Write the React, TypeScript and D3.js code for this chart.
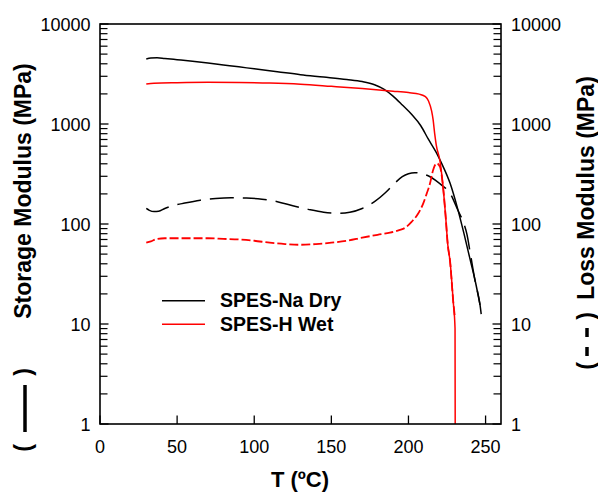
import React from "react";
import * as d3 from "d3";

// SPES-Na Dry, storage modulus (solid black)
const naStorageT = [30, 33, 37, 42, 50, 60, 70, 80, 90, 100, 115, 130, 145, 160, 170, 178, 184, 190, 196, 202, 208, 213, 218, 221.5, 227, 232, 236, 240, 243.5, 246.4];
const naStorageV = [4467, 4570, 4600, 4520, 4400, 4250, 4080, 3900, 3730, 3560, 3330, 3110, 2950, 2790, 2660, 2470, 2230, 1900, 1550, 1250, 960, 700, 520, 404, 255, 140, 80, 44, 26, 15.5];

// SPES-Na Dry, loss modulus (dashed black)
const naLossT = [30, 32, 35, 38, 42, 47, 55, 65, 75, 85, 95, 105, 115, 125, 135, 145, 155, 162, 170, 178, 185, 191, 196, 200, 204, 209, 214, 218, 221.5, 227, 232, 236, 238, 240, 243, 246.4, 247.5];
const naLossV = [143, 137, 133, 134, 143, 152, 162, 173, 180, 183, 182, 177, 167, 152, 140, 131, 128, 131, 143, 167, 205, 255, 297, 318, 326, 318, 297, 270, 245, 203, 138, 100, 78, 52, 28, 15.5, 11.4];

// SPES-H Wet, storage modulus (solid red)
const hStorageT = [30, 35, 50, 70, 90, 110, 130, 150, 170, 190, 200, 207, 211, 213, 215, 216, 217, 218, 220.5, 224, 225.5, 227, 229, 230.2, 230.3];
const hStorageV = [2512, 2560, 2590, 2610, 2600, 2570, 2500, 2380, 2260, 2130, 2060, 1990, 1880, 1700, 1350, 1100, 800, 620, 420, 125, 62, 42, 17, 9, 1];

// SPES-H Wet, loss modulus (dashed red)
const hLossT = [30, 33, 37, 42, 50, 60, 70, 80, 90, 100, 110, 120, 130, 140, 150, 160, 170, 180, 188, 194, 198, 202, 206, 209.6, 212, 214, 216, 218.3, 220.4, 222.2, 224, 225.5, 227, 229, 230];
const hLossV = [65, 67, 71, 72, 72, 72, 72, 71, 70, 68, 65, 63, 62, 63, 65, 68, 73, 78, 82, 87, 92, 105, 125, 161, 205, 255, 347, 404, 374, 255, 125, 62, 42, 17, 12];

const xTicks = [0, 50, 100, 150, 200, 250];
const yTicks = [1, 10, 100, 1000, 10000];
const legendLabels = ["SPES-Na Dry", "SPES-H Wet"];
const legendColors = ["#000000", "#ff0000"];

export default function App() {
  const W = 598, H = 493;
  const x = d3.scaleLinear().domain([0, 260]).range([100, 501]);
  const y = d3.scaleLog().domain([1, 10000]).range([424, 24]);
  const left = 100, right = 501, top = 24, bottom = 424;

  const line = d3
    .line<[number, number]>()
    .x((d) => x(d[0]))
    .y((d) => y(d[1]))
    .curve(d3.curveMonotoneX);
  const zip = (a: number[], b: number[]) => a.map((t, i) => [t, b[i]] as [number, number]);

  const minor: number[] = [];
  [1, 10, 100, 1000].forEach((d) => {
    for (let m = 2; m <= 9; m++) minor.push(d * m);
  });

  const font = "'Liberation Sans', Arial, sans-serif";

  return (
    <div style={{ position: "absolute", left: 0, top: 0 }}>
      <svg width={W} height={H} style={{ display: "block", background: "#fff" }}>
        {/* curves */}
        <path d={line(zip(naStorageT, naStorageV)) || ""} fill="none" stroke="#000" strokeWidth={1.5} />
        <path d={line(zip(naLossT, naLossV)) || ""} fill="none" stroke="#000" strokeWidth={1.5} strokeDasharray="24,9" />
        <path d={line(zip(hStorageT, hStorageV)) || ""} fill="none" stroke="#ff0000" strokeWidth={1.5} />
        <path d={line(zip(hLossT, hLossV)) || ""} fill="none" stroke="#ff0000" strokeWidth={1.8} strokeDasharray="9,3" />

        {/* frame */}
        <rect x={left} y={top} width={right - left} height={bottom - top} fill="none" stroke="#000" strokeWidth={1.6} />

        {/* y ticks */}
        {yTicks.map((v) => (
          <g key={"y" + v}>
            <line x1={left} x2={left + 8.5} y1={y(v)} y2={y(v)} stroke="#000" strokeWidth={1.3} />
            <line x1={right} x2={right - 8.5} y1={y(v)} y2={y(v)} stroke="#000" strokeWidth={1.3} />
            <text x={90.5} y={y(v) + 6.5} textAnchor="end" fontFamily={font} fontSize={18} fill="#000">
              {v}
            </text>
            <text x={511} y={y(v) + 6.5} textAnchor="start" fontFamily={font} fontSize={18} fill="#000">
              {v}
            </text>
          </g>
        ))}
        {minor.map((v) => (
          <g key={"m" + v}>
            <line x1={left} x2={left + 7.5} y1={y(v)} y2={y(v)} stroke="#000" strokeWidth={1.2} />
            <line x1={right} x2={right - 7.5} y1={y(v)} y2={y(v)} stroke="#000" strokeWidth={1.2} />
          </g>
        ))}

        {/* x ticks */}
        {xTicks.map((v) => (
          <g key={"x" + v}>
            <line x1={x(v)} x2={x(v)} y1={bottom} y2={bottom - 8.5} stroke="#000" strokeWidth={1.3} />
            <text x={x(v)} y={452.5} textAnchor="middle" fontFamily={font} fontSize={18} fill="#000">
              {v}
            </text>
          </g>
        ))}

        {/* axis titles */}
        <text x={300} y={486.5} textAnchor="middle" fontFamily={font} fontSize={22} fontWeight="bold" fill="#000">
          T (ºC)
        </text>
        <text transform="translate(31,191) rotate(-90)" textAnchor="middle" fontFamily={font} fontSize={23} fontWeight="bold" fill="#000">
          Storage Modulus (MPa)
        </text>
        <text transform="translate(31,448) rotate(-90)" textAnchor="middle" fontFamily={font} fontSize={23} fontWeight="bold" fill="#000">
          (
        </text>
        <line x1={25} x2={25} y1={385} y2={432} stroke="#000" strokeWidth={3.5} />
        <text transform="translate(31,372) rotate(-90)" textAnchor="middle" fontFamily={font} fontSize={23} fontWeight="bold" fill="#000">
          )
        </text>

        <text transform="translate(594,188) rotate(-90)" textAnchor="middle" fontFamily={font} fontSize={23} fontWeight="bold" fill="#000">
          Loss Modulus (MPa)
        </text>
        <text transform="translate(594,366) rotate(-90)" textAnchor="middle" fontFamily={font} fontSize={23} fontWeight="bold" fill="#000">
          (
        </text>
        <line x1={587} x2={587} y1={347} y2={356} stroke="#000" strokeWidth={3.5} />
        <line x1={587} x2={587} y1={328} y2={337} stroke="#000" strokeWidth={3.5} />
        <text transform="translate(594,316) rotate(-90)" textAnchor="middle" fontFamily={font} fontSize={23} fontWeight="bold" fill="#000">
          )
        </text>

        {/* legend */}
        {legendLabels.map((lab, i) => (
          <g key={lab}>
            <line x1={162} x2={205} y1={300.7 + i * 23.5} y2={300.7 + i * 23.5} stroke={legendColors[i]} strokeWidth={1.6} />
            <text x={220} y={307 + i * 23.5} fontFamily={font} fontSize={19.5} fontWeight="bold" fill="#000">
              {lab}
            </text>
          </g>
        ))}
      </svg>
    </div>
  );
}
